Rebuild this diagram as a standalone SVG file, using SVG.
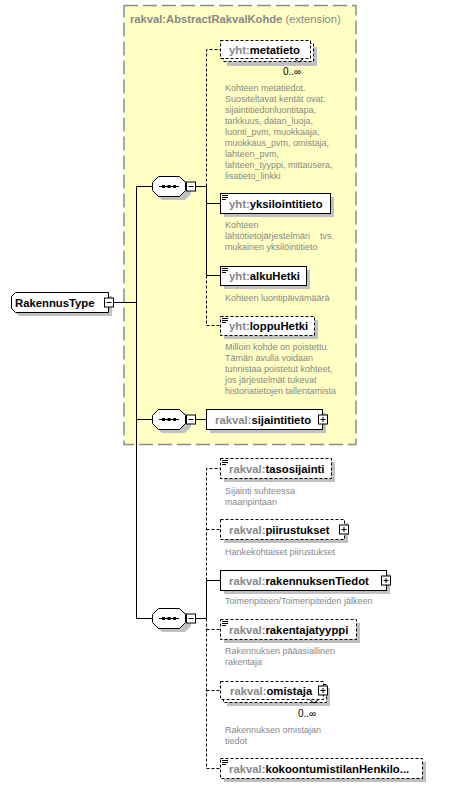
<svg xmlns="http://www.w3.org/2000/svg" width="450" height="788" viewBox="0 0 450 788">
<style>
.nm{font-family:"Liberation Sans",Arial,sans-serif;font-weight:bold;font-size:11.3px;fill:#000}
.px{fill:#888}
.ds{font-family:"Liberation Sans",Arial,sans-serif;font-size:9px;fill:#888}
.oc{font-family:"Liberation Sans",Arial,sans-serif;font-size:10px;fill:#000}
.bx{fill:#fff;stroke:#000;stroke-width:1}
.opt{fill:#fff;stroke:#000;stroke-width:1;stroke-dasharray:3,2}
.sh{fill:#c0c0c0}
.ln{stroke:#000;stroke-width:1;fill:none}
.dl{stroke:#000;stroke-width:1;fill:none;stroke-dasharray:3,2}
.btn{fill:#fff;stroke:#000;stroke-width:1}
</style>
<defs>
<g id="minus"><rect class="btn" x="0.5" y="0.5" width="9" height="9"/><path class="ln" d="M2.5,5H7.5"/></g>
<g id="plus"><rect class="btn" x="0.5" y="0.5" width="9" height="9"/><path class="ln" d="M2.5,5H7.5M5,2.5V7.5"/></g>
<g id="icon"><path class="ln" d="M2,2.5H8M2,4.5H8M2,6.5H6"/></g>
<g id="seq">
<polygon class="sh" points="162,4 185,4 191,10 191,18 185,24 162,24 156,18 156,10" transform="translate(-152,0)"/>
<polygon class="bx" points="6.5,0.5 27.5,0.5 33.5,6.5 33.5,14.5 27.5,20.5 6.5,20.5 0.5,14.5 0.5,6.5"/>
<path class="ln" d="M7,10.5H27"/>
<rect x="10" y="9" width="3" height="3" fill="#000"/>
<rect x="15.5" y="9" width="3" height="3" fill="#000"/>
<rect x="21" y="9" width="3" height="3" fill="#000"/>
</g>
</defs>

<g id="extension">
<rect x="124" y="5.5" width="232" height="439" fill="#ffffc4" stroke="#8c8c8c" stroke-width="1.5" stroke-dasharray="14,5"/>
<text x="130" y="23" font-family="Liberation Sans,Arial,sans-serif" font-size="11.2px" fill="#888"><tspan font-weight="bold">rakval:AbstractRakvalKohde</tspan> (extension)</text>
</g>

<g id="connectors">
<path class="ln" d="M114,302.5H136.5M136.5,186.5V618.5M136.5,186.5H152M136.5,419.5H152M136.5,618.5H152"/>
<path class="ln" d="M196,186.5H206.5M196,419.5H206M196,618.5H206.5"/>
<path class="dl" d="M206.5,186.5V49.5H220"/>
<path class="ln" d="M206.5,186.5V275.5M206.5,203.5H220M206.5,275.5H220"/>
<path class="dl" d="M206.5,275.5V325.5H220"/>
<path class="dl" d="M206.5,580.5V468.5H220M206.5,529.5H220"/>
<path class="ln" d="M206.5,580.5V618.5M206.5,580.5H220"/>
<path class="dl" d="M206.5,618.5V768.5H220M206.5,629.5H220M206.5,690.5H220"/>
</g>

<g id="RakennusType">
<polygon class="sh" points="19,296 112,296 112,316 19,316 15,312 15,300"/>
<polygon class="bx" points="15.5,292.5 108.5,292.5 108.5,312.5 15.5,312.5 11.5,308.5 11.5,296.5"/>
<text class="nm" x="15" y="306.5">RakennusType</text>
<use href="#minus" x="104" y="297.5"/>
</g>

<g id="seq1"><use href="#seq" x="152" y="176"/><use href="#minus" x="186" y="181.5"/></g>
<g id="seq2"><use href="#seq" x="152" y="409"/><use href="#minus" x="186" y="414.5"/></g>
<g id="seq3"><use href="#seq" x="152" y="608"/><use href="#minus" x="186" y="613.5"/></g>

<g id="metatieto">
<rect class="sh" x="227" y="47" width="90" height="19"/>
<rect class="opt" x="223.5" y="43.5" width="90" height="18"/>
<rect class="opt" x="220.5" y="40.5" width="90" height="18"/>
<path class="ln" d="M295,59L299,62L303,59"/>
<text class="nm" x="229" y="53.5"><tspan class="px">yht:</tspan>metatieto</text>
<text class="oc" x="283" y="75">0..∞</text>
<text class="ds" x="225"><tspan x="225" y="91">Kohteen metatiedot.</tspan><tspan x="225" y="102">Suositeltavat kentät ovat:</tspan><tspan x="225" y="113">sijaintitiedonluontitapa,</tspan><tspan x="225" y="124">tarkkuus, datan_luoja,</tspan><tspan x="225" y="135">luonti_pvm, muokkaaja,</tspan><tspan x="225" y="146">muokkaus_pvm, omistaja,</tspan><tspan x="225" y="157">lahteen_pvm,</tspan><tspan x="225" y="168">lahteen_tyyppi, mittausera,</tspan><tspan x="225" y="179">lisatieto_linkki</tspan></text>
</g>

<g id="yksilointitieto">
<rect class="sh" x="224" y="197" width="110" height="20"/>
<rect class="bx" x="220.5" y="193.5" width="110" height="20"/>
<use href="#icon" x="220" y="193"/>
<text class="nm" x="229" y="207.5"><tspan class="px">yht:</tspan>yksilointitieto</text>
<text class="ds"><tspan x="225" y="228">Kohteen</tspan><tspan x="225" y="239">lähtötietojärjestelmän</tspan><tspan x="320" y="239">tvs.</tspan><tspan x="225" y="250">mukainen yksilöintitieto</tspan></text>
</g>

<g id="alkuHetki">
<rect class="sh" x="224" y="270" width="86" height="19"/>
<rect class="bx" x="220.5" y="266.5" width="86" height="19"/>
<use href="#icon" x="220" y="266"/>
<text class="nm" x="229" y="280"><tspan class="px">yht:</tspan>alkuHetki</text>
<text class="ds" x="225" y="301">Kohteen luontipäivämäärä</text>
</g>

<g id="loppuHetki">
<rect class="sh" x="224" y="320" width="94" height="19"/>
<rect class="opt" x="220.5" y="316.5" width="94" height="19"/>
<use href="#icon" x="220" y="316"/>
<text class="nm" x="229" y="330"><tspan class="px">yht:</tspan>loppuHetki</text>
<text class="ds"><tspan x="225" y="350">Milloin kohde on poistettu.</tspan><tspan x="225" y="361">Tämän avulla voidaan</tspan><tspan x="225" y="372">tunnistaa poistetut kohteet,</tspan><tspan x="225" y="383">jos järjestelmät tukevat</tspan><tspan x="225" y="394">historiatietojen tallentamista</tspan></text>
</g>

<g id="sijaintitieto">
<rect class="sh" x="210" y="413" width="116" height="20"/>
<rect class="bx" x="206.5" y="409.5" width="116" height="20"/>
<text class="nm" x="215" y="423.5"><tspan class="px">rakval:</tspan>sijaintitieto</text>
<use href="#plus" x="318" y="414.5"/>
</g>

<g id="tasosijainti">
<rect class="sh" x="224" y="462" width="111" height="20"/>
<rect class="opt" x="220.5" y="458.5" width="111" height="20"/>
<use href="#icon" x="220" y="458"/>
<text class="nm" x="229" y="472.5"><tspan class="px">rakval:</tspan>tasosijainti</text>
<text class="ds"><tspan x="225" y="494">Sijainti suhteessa</tspan><tspan x="225" y="505">maanpintaan</tspan></text>
</g>

<g id="piirustukset">
<rect class="sh" x="224" y="523" width="124" height="20"/>
<rect class="opt" x="220.5" y="519.5" width="124" height="20"/>
<text class="nm" x="229" y="533.5"><tspan class="px">rakval:</tspan>piirustukset</text>
<use href="#plus" x="339" y="524.5"/>
<text class="ds" x="225" y="555">Hankekohtaiset piirustukset</text>
</g>

<g id="rakennuksenTiedot">
<rect class="sh" x="224" y="574" width="166" height="20"/>
<rect class="bx" x="220.5" y="570.5" width="166" height="20"/>
<text class="nm" x="229" y="584.5"><tspan class="px">rakval:</tspan>rakennuksenTiedot</text>
<use href="#plus" x="381" y="575.5"/>
<text class="ds" x="225" y="604">Toimenpiteen/Toimenpiteiden jälkeen</text>
</g>

<g id="rakentajatyyppi">
<rect class="sh" x="224" y="623" width="136" height="20"/>
<rect class="opt" x="220.5" y="619.5" width="136" height="20"/>
<use href="#icon" x="220" y="619"/>
<text class="nm" x="229" y="633.5"><tspan class="px">rakval:</tspan>rakentajatyyppi</text>
<text class="ds"><tspan x="225" y="654">Rakennuksen pääasiallinen</tspan><tspan x="225" y="665">rakentaja</tspan></text>
</g>

<g id="omistaja">
<rect class="sh" x="227" y="688" width="103" height="18"/>
<rect class="opt" x="223.5" y="684.5" width="103" height="18"/>
<rect class="opt" x="220.5" y="681.5" width="103" height="18"/>
<path class="ln" d="M310,700L314,703L318,700"/>
<text class="nm" x="230" y="694.5"><tspan class="px">rakval:</tspan>omistaja</text>
<use href="#plus" x="318" y="685.5"/>
<text class="oc" x="298" y="717">0..∞</text>
<text class="ds"><tspan x="225" y="733">Rakennuksen omistajan</tspan><tspan x="225" y="744">tiedot</tspan></text>
</g>

<g id="kokoontumistilanHenkilo">
<rect class="sh" x="224" y="762" width="202" height="20"/>
<rect class="opt" x="220.5" y="758.5" width="202" height="20"/>
<use href="#icon" x="220" y="758"/>
<text class="nm" x="229" y="772.5"><tspan class="px">rakval:</tspan>kokoontumistilanHenkilo...</text>
</g>
</svg>
